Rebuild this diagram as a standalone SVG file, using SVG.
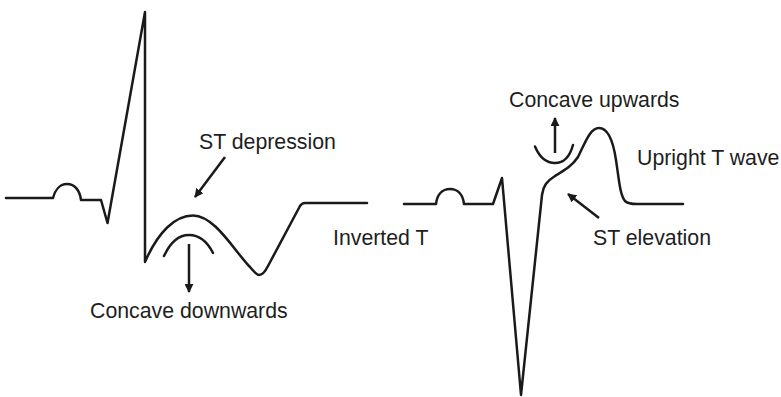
<svg xmlns="http://www.w3.org/2000/svg" width="781" height="397" viewBox="0 0 781 397">
  <style>
    .trace { fill: none; stroke: #1a1a1a; stroke-width: 2.5; stroke-linejoin: round; stroke-linecap: round; }
    .arrow { fill: none; stroke: #1a1a1a; stroke-width: 2.5; marker-end: url(#head); }
    .lbl { font-family: "Liberation Sans", Arial, sans-serif; font-size: 21.3px; fill: #1e1e1e; }
  </style>
  <defs>
    <marker id="head" viewBox="0 0 10 10" refX="9" refY="5" markerWidth="9" markerHeight="9" markerUnits="userSpaceOnUse" orient="auto">
      <path d="M0,0 L10,5 L0,10 Z" fill="#1a1a1a"/>
    </marker>
  </defs>
  <rect width="781" height="397" fill="#ffffff"/>

  <g id="ecg-st-depression">
    <path class="trace" d="M6,198 L53,198 C55,190 60,184 67,184 C75,184 80,191 81,200 L101,200 L107.5,223 L145,12 L145,262 C158,232 175,215.5 193,215.5 C215,215.5 235,252 250,267 C255,273 257,275 259,275 C262,275 265,272 268,266 L300,206 Q302,203 305,203 L367,203"/>
  </g>

  <g id="ecg-st-elevation">
    <path class="trace" d="M404,204 L436,204 C437,195 442,189 450,189 C458,189 463,195 464,204 L493,204 L502,178 L521,395 L542,195 C543,186 547,181 555,176 C565,170 572,166 578,157 C585,143 590,128 599,128 C608,128 613,140 616,160 C619,180 620,195 625,201 C628,204 632,204 637,204 L683,204"/>
  </g>

  <g id="concave-down">
    <path class="trace" d="M164,256 C170,243 178,235 189,235 C200,235 208,243 213,253"/>
  </g>

  <g id="concave-up">
    <path class="trace" d="M535,146.5 C539,156 546,163 555,163 C564,163 570,156 573,145"/>
  </g>

  <g id="connectors">
    <line class="arrow" x1="189" y1="244" x2="189" y2="292"/>
    <line class="arrow" x1="225" y1="157" x2="195" y2="197"/>
    <line class="arrow" x1="555" y1="153" x2="555" y2="118"/>
    <line class="arrow" x1="599" y1="218" x2="568" y2="194"/>
  </g>

  <g id="labels">
    <text class="lbl" x="199" y="149">ST depression</text>
    <text class="lbl" x="90" y="318">Concave downwards</text>
    <text class="lbl" x="333" y="245">Inverted T</text>
    <text class="lbl" x="509" y="107">Concave upwards</text>
    <text class="lbl" x="637" y="165">Upright T wave</text>
    <text class="lbl" x="593" y="245">ST elevation</text>
  </g>
</svg>
